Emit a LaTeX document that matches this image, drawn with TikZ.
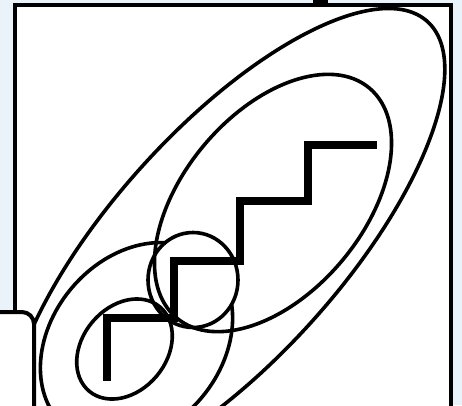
\documentclass[tikz,border=0pt]{standalone}
\usepackage{tikz}
\usetikzlibrary{positioning,calc}
\definecolor{paleblue}{RGB}{234,242,250}

\begin{document}
\begin{tikzpicture}[
  x=1pt,y=-1pt,
  panel/.style={draw=black,line width=4pt,fill=white},
  oval/.style={draw=black,line width=3.6pt},
  stairs/.style={draw=black,line width=8pt,line join=miter,line cap=butt}
]
\useasboundingbox (0,0) rectangle (462,405);
\clip (0,0) rectangle (462,405);
\fill[paleblue] (0,0) rectangle (462,405);

% main panel
\draw[panel] (15,4.5) rectangle (450.5,430);
\fill[black] (313,-3) rectangle (328,6);

\coordinate (outerc) at (226.6,244.4);
\coordinate (innerc) at (273,203);
\coordinate (lowc) at (136.5,343);
\coordinate (smallc) at (124.5,349);
\coordinate (ringc) at (193,280);

\draw[oval,rotate around={48:(outerc)}] (outerc) ellipse [x radius=300,y radius=115];
\draw[oval,rotate around={50:(lowc)}] (lowc) ellipse [x radius=110,y radius=85];
% the ring hides the tip of the lower oval
\fill[white] (ringc) ellipse [x radius=44,y radius=46.5];
\draw[oval,rotate around={50:(innerc)}] (innerc) ellipse [x radius=150,y radius=90];
\draw[oval,rotate around={50:(smallc)}] (smallc) ellipse [x radius=55,y radius=42];
\draw[oval] (ringc) ellipse [x radius=45,y radius=47.5];

% stairs
\draw[stairs] (107,381) -- (107,318) -- (174,318) -- (174,261) -- (240,261)
  -- (240,201) -- (308,201) -- (308,145) -- (377,145);

% corner box
\draw[panel,rounded corners=12pt] (-20,312) rectangle (34,440);
\end{tikzpicture}
\end{document}
